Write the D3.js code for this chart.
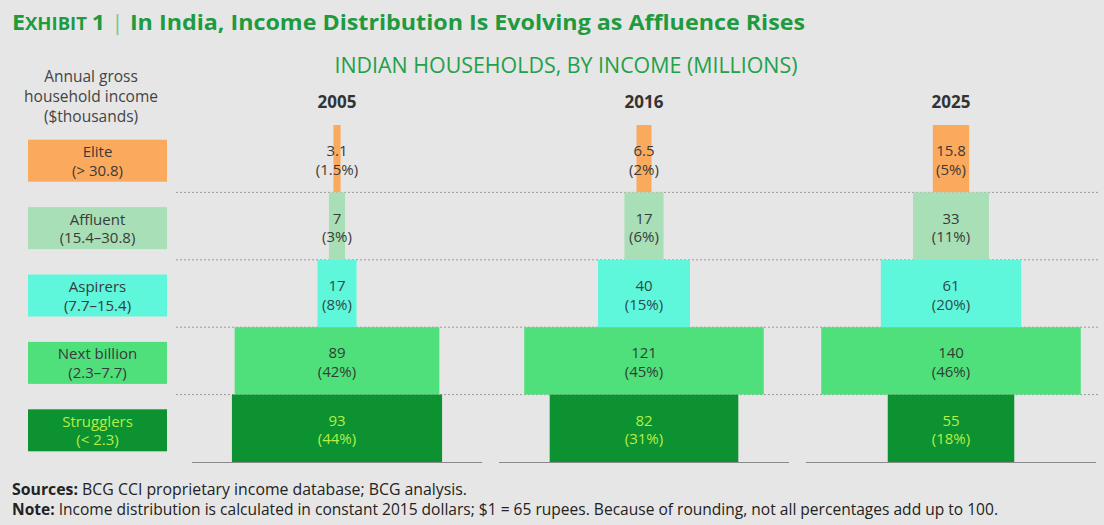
<!DOCTYPE html>
<html>
<head>
<meta charset="utf-8">
<script src="https://cdn.jsdelivr.net/npm/d3@7"></script>
<style>
  body { margin: 0; background: #e6e6e6; }
  svg { display: block; }
</style>
</head>
<body>
<div id="chart"></div>
<script>
// segments, top to bottom
var segments = ["Elite", "Affluent", "Aspirers", "Next billion", "Strugglers"];
var ranges = ["(> 30.8)", "(15.4\u201330.8)", "(7.7\u201315.4)", "(2.3\u20137.7)", "(< 2.3)"];
var years = ["2005", "2016", "2025"];

// households in millions, same order as segments
var values2005 = [3.1, 7, 17, 89, 93];
var values2016 = [6.5, 17, 40, 121, 82];
var values2025 = [15.8, 33, 61, 140, 55];
var pct2005 = ["1.5%", "3%", "8%", "42%", "44%"];
var pct2016 = ["2%", "6%", "15%", "45%", "31%"];
var pct2025 = ["5%", "11%", "20%", "46%", "18%"];

var fills = ["#fba95c", "#a9dfb6", "#5ef7dc", "#4fe07b", "#0d9232"];
var textCol = ["#3a3a3a", "#3a3a3a", "#2f4a47", "#2f3f33", "#b4ef45"];

var W = 1104, H = 525;
var svg = d3.select("#chart").append("svg")
    .attr("width", W)
    .attr("height", H)
    .style("font-family", "'Open Sans', 'Noto Sans', sans-serif");

svg.append("rect").attr("width", W).attr("height", H).attr("fill", "#e6e6e6");

// title
var title = svg.append("text")
    .attr("x", 12).attr("y", 30)
    .attr("fill", "#1e9a3f")
    .attr("font-size", 22)
    .attr("font-weight", "bold")
    .attr("textLength", 793)
    .attr("lengthAdjust", "spacingAndGlyphs");
title.append("tspan").text("E");
title.append("tspan").attr("font-size", 17.5).text("XHIBIT ");
title.append("tspan").text("1");
title.append("tspan").attr("font-weight", "normal").attr("fill", "#7cc68f").text(" | ");
title.append("tspan").text("In India, Income Distribution Is Evolving as Affluence Rises");

svg.append("text")
    .attr("x", 566).attr("y", 73)
    .attr("text-anchor", "middle")
    .attr("fill", "#22a04a")
    .attr("font-size", 21)
    .attr("textLength", 463)
    .attr("lengthAdjust", "spacingAndGlyphs")
    .text("INDIAN HOUSEHOLDS, BY INCOME (MILLIONS)");

// left header
var head = ["Annual gross", "household income", "($thousands)"];
svg.selectAll(".head").data(head).enter().append("text")
    .attr("class", "head")
    .attr("x", 91)
    .attr("y", function (d, i) { return 82 + i * 20; })
    .attr("text-anchor", "middle")
    .attr("fill", "#444")
    .attr("font-size", 15.5)
    .text(function (d) { return d; });

var y = d3.scaleBand().domain(segments).range([125, 462]);
var x = d3.scalePoint().domain(years).range([337, 951]);
// the widest segment is compressed in the original
var w = d3.scaleLinear().domain([0, 90, 150]).range([0, 207, 270]);

// year labels
svg.selectAll(".year").data(years).enter().append("text")
    .attr("x", function (d) { return x(d); })
    .attr("y", 108)
    .attr("text-anchor", "middle")
    .attr("fill", "#333")
    .attr("font-size", 17)
    .attr("font-weight", "bold")
    .text(function (d) { return d; });

// dotted separators
svg.selectAll(".sep").data(segments.slice(1)).enter().append("line")
    .attr("x1", 176).attr("x2", 1100)
    .attr("y1", function (d) { return y(d); })
    .attr("y2", function (d) { return y(d); })
    .attr("stroke", "#9a9a9a")
    .attr("stroke-width", 1)
    .attr("stroke-dasharray", "2,2");

// baselines
svg.selectAll(".base").data(years).enter().append("line")
    .attr("x1", function (d) { return x(d) - 145; })
    .attr("x2", function (d) { return x(d) + 145; })
    .attr("y1", 462.5).attr("y2", 462.5)
    .attr("stroke", "#8a8a8a")
    .attr("stroke-width", 1.2);

// left legend boxes
var leg = svg.selectAll(".leg").data(segments).enter().append("g")
    .attr("transform", function (d) { return "translate(28," + (y(d) + y.bandwidth() / 2 - 19) + ")"; });
leg.append("rect")
    .attr("width", 139).attr("height", 42)
    .attr("fill", function (d, i) { return fills[i]; });
leg.append("text")
    .attr("x", 69.5).attr("y", 17.5)
    .attr("text-anchor", "middle")
    .attr("font-size", 15)
    .attr("fill", function (d, i) { return i == 4 ? textCol[4] : "#3a3a3a"; })
    .text(function (d) { return d; });
leg.append("text")
    .attr("x", 69.5).attr("y", 36)
    .attr("text-anchor", "middle")
    .attr("font-size", 15)
    .attr("fill", function (d, i) { return i == 4 ? textCol[4] : "#3a3a3a"; })
    .text(function (d, i) { return ranges[i]; });

// bars
var series = [
    { year: "2005", values: values2005, pct: pct2005 },
    { year: "2016", values: values2016, pct: pct2016 },
    { year: "2025", values: values2025, pct: pct2025 }
];

series.forEach(function (s) {
    var g = svg.append("g");
    var rows = s.values.map(function (v, i) {
        return { seg: segments[i], v: v, pct: s.pct[i], i: i };
    });
    g.selectAll("rect").data(rows).enter().append("rect")
        .attr("x", function (d) { return x(s.year) - w(d.v) / 2; })
        .attr("y", function (d) { return y(d.seg); })
        .attr("width", function (d) { return w(d.v); })
        .attr("height", y.bandwidth())
        .attr("fill", function (d) { return fills[d.i]; });
    g.selectAll(".v").data(rows).enter().append("text")
        .attr("x", x(s.year))
        .attr("y", function (d) { return y(d.seg) + y.bandwidth() / 2 - 2.5; })
        .attr("text-anchor", "middle")
        .attr("font-size", 15)
        .attr("fill", function (d) { return textCol[d.i]; })
        .text(function (d) { return d.v; });
    g.selectAll(".p").data(rows).enter().append("text")
        .attr("x", x(s.year))
        .attr("y", function (d) { return y(d.seg) + y.bandwidth() / 2 + 16; })
        .attr("text-anchor", "middle")
        .attr("font-size", 15)
        .attr("fill", function (d) { return textCol[d.i]; })
        .text(function (d) { return "(" + d.pct + ")"; });
});

// footer
var f1 = svg.append("text")
    .attr("x", 12).attr("y", 495)
    .attr("font-size", 15.5)
    .attr("fill", "#222")
    .attr("textLength", 455)
    .attr("lengthAdjust", "spacingAndGlyphs");
f1.append("tspan").attr("font-weight", "bold").text("Sources:");
f1.append("tspan").text(" BCG CCI proprietary income database; BCG analysis.");

var f2 = svg.append("text")
    .attr("x", 12).attr("y", 515)
    .attr("font-size", 15.5)
    .attr("fill", "#222")
    .attr("textLength", 986)
    .attr("lengthAdjust", "spacingAndGlyphs");
f2.append("tspan").attr("font-weight", "bold").text("Note:");
f2.append("tspan").text(" Income distribution is calculated in constant 2015 dollars; $1 = 65 rupees. Because of rounding, not all percentages add up to 100.");
</script>
</body>
</html>
